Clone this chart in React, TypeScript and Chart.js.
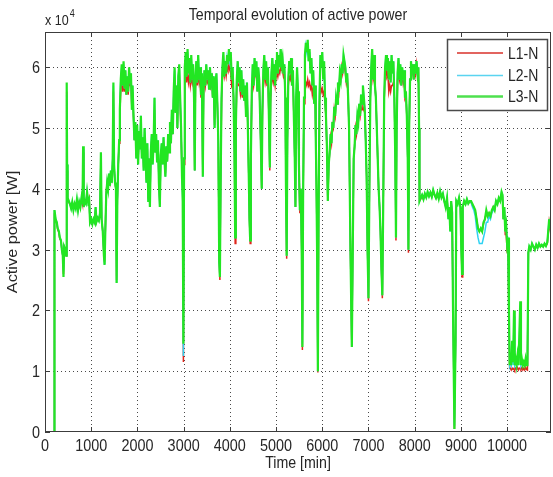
import React, { useEffect, useRef } from "react";
import { Chart, registerables } from "chart.js";

Chart.register(...registerables);

// ---------- data: sample times (min) and active power per phase (W) ----------
const timeMin = [
  0, 195, 205, 230, 255, 275, 300, 320,
  345, 365, 385, 400, 415, 440, 460, 470,
  478, 490, 515, 540, 565, 590, 615, 640,
  665, 690, 715, 740, 765, 790, 812, 825,
  838, 860, 885, 910, 935, 955, 975, 1000,
  1025, 1050, 1075, 1095, 1115, 1140, 1165, 1190,
  1210, 1225, 1250, 1275, 1290, 1305, 1325, 1345,
  1365, 1385, 1405, 1425, 1445, 1465, 1480, 1495,
  1515, 1535, 1550, 1565, 1585, 1605, 1620, 1640,
  1660, 1680, 1700, 1720, 1740, 1760, 1780, 1800,
  1820, 1840, 1860, 1880, 1895, 1915, 1935, 1955,
  1975, 1995, 2015, 2035, 2055, 2075, 2095, 2115,
  2135, 2155, 2175, 2195, 2215, 2235, 2250, 2270,
  2290, 2310, 2330, 2350, 2370, 2385, 2405, 2425,
  2445, 2465, 2485, 2505, 2525, 2545, 2565, 2585,
  2605, 2625, 2645, 2665, 2685, 2705, 2725, 2745,
  2765, 2785, 2805, 2825, 2845, 2865, 2885, 2905,
  2925, 2945, 2965, 2980, 2995, 3010, 3025, 3045,
  3065, 3085, 3105, 3125, 3145, 3165, 3185, 3205,
  3225, 3240, 3255, 3275, 3295, 3315, 3335, 3355,
  3375, 3395, 3415, 3430, 3450, 3470, 3490, 3510,
  3530, 3550, 3570, 3590, 3610, 3630, 3650, 3670,
  3690, 3710, 3730, 3750, 3770, 3785, 3800, 3820,
  3840, 3860, 3880, 3900, 3920, 3940, 3960, 3980,
  4000, 4020, 4040, 4060, 4080, 4100, 4115, 4130,
  4150, 4170, 4190, 4210, 4230, 4250, 4270, 4290,
  4310, 4330, 4350, 4370, 4390, 4410, 4425, 4440,
  4455, 4475, 4495, 4515, 4535, 4555, 4575, 4595,
  4615, 4635, 4655, 4675, 4690, 4705, 4725, 4745,
  4765, 4785, 4805, 4825, 4845, 4865, 4880, 4900,
  4920, 4940, 4960, 4980, 5000, 5020, 5040, 5060,
  5080, 5100, 5120, 5140, 5160, 5180, 5200, 5215,
  5230, 5245, 5265, 5285, 5305, 5325, 5345, 5365,
  5385, 5405, 5420, 5435, 5455, 5475, 5495, 5515,
  5535, 5555, 5570, 5585, 5605, 5625, 5645, 5665,
  5685, 5705, 5725, 5745, 5765, 5785, 5805, 5825,
  5845, 5860, 5875, 5890, 5905, 5920, 5940, 5960,
  5980, 6000, 6020, 6040, 6060, 6080, 6100, 6120,
  6140, 6160, 6180, 6200, 6220, 6240, 6260, 6280,
  6300, 6320, 6340, 6360, 6380, 6400, 6420, 6440,
  6460, 6480, 6500, 6520, 6540, 6560, 6580, 6610,
  6640, 6660, 6680, 6700, 6720, 6740, 6760, 6780,
  6800, 6820, 6840, 6860, 6880, 6900, 6920, 6940,
  6960, 6980, 7000, 7020, 7040, 7060, 7080, 7100,
  7120, 7140, 7160, 7180, 7200, 7220, 7240, 7260,
  7280, 7300, 7320, 7340, 7360, 7380, 7400, 7420,
  7440, 7460, 7480, 7500, 7520, 7540, 7560, 7580,
  7595, 7610, 7630, 7650, 7670, 7690, 7710, 7730,
  7750, 7770, 7790, 7810, 7830, 7850, 7865, 7880,
  7900, 7920, 7940, 7960, 7980, 8000, 8020, 8040,
  8060, 8080, 8095, 8105, 8130, 8160, 8190, 8220,
  8250, 8280, 8310, 8340, 8370, 8400, 8430, 8460,
  8490, 8520, 8550, 8580, 8610, 8640, 8670, 8700,
  8730, 8750, 8770, 8790, 8810, 8830, 8860, 8885,
  8900, 8930, 8960, 8990, 9010, 9025, 9040, 9070,
  9100, 9130, 9160, 9190, 9220, 9250, 9280, 9310,
  9340, 9370, 9400, 9430, 9460, 9490, 9520, 9550,
  9580, 9610, 9640, 9670, 9700, 9730, 9760, 9790,
  9820, 9850, 9880, 9900, 9920, 9940, 9960, 9980,
  10000, 10020, 10040, 10055, 10070, 10090, 10110, 10130,
  10150, 10165, 10185, 10205, 10225, 10245, 10265, 10285,
  10300, 10320, 10340, 10360, 10380, 10400, 10420, 10440,
  10460, 10480, 10510, 10540, 10570, 10600, 10630, 10660,
  10690, 10720, 10750, 10780, 10810, 10840, 10870, 10890,
  10910, 10930, 10950,
];

const powerL3 = [
  0, 0, 36500, 35000, 34500, 33500, 33000, 32000,
  31500, 30000, 29000, 25500, 30500, 30000, 29000, 57500,
  44000, 38500, 38000, 37500, 36800, 37800, 36500, 37500,
  36800, 38200, 36500, 37800, 37000, 38500, 37500, 47000,
  37000, 38000, 37600, 39500, 37800, 38200, 34500, 35000,
  34200, 35000, 34500, 37000, 34600, 35200, 34800, 36000,
  46000, 35000, 33000, 29000, 27500, 33000, 39000, 41000,
  40000, 42500, 40500, 43000, 41000, 45000, 57500, 44000,
  41000, 40000, 24500, 38000, 44000, 48000, 53000, 58000,
  60500, 57000, 61000, 56500, 59500, 55500, 58500, 56000,
  60000, 57500, 59000, 53000, 57000, 52000, 48000, 51000,
  45000, 50500, 44000, 49500, 46500, 52000, 45000, 48500,
  43000, 50000, 46000, 41000, 47500, 38000, 45000, 37000,
  46000, 49000, 44000, 47500, 55000, 46000, 49000, 44500,
  48000, 41000, 37000, 45500, 47500, 44000, 48500, 45000,
  42000, 47000, 44500, 49000, 46000, 51000, 47500, 53000,
  49000, 56000, 60000, 52500, 57000, 50000, 58500, 60500,
  55000, 50000, 42000, 38000, 14500, 45000, 60000, 62500,
  58500, 63000, 59000, 61500, 57500, 62000, 58000, 60500,
  55000, 43000, 58000, 61000, 57500, 62000, 58000, 60000,
  55500, 59000, 42000, 56000, 59500, 57000, 60500, 58000,
  59500, 56500, 60000, 57000, 59000, 55000, 58500, 50000,
  57500, 59000, 54000, 48000, 28000, 25500, 40000, 55000,
  60000, 62500, 58500, 61000, 59000, 62000, 60500, 63000,
  61000, 62500, 58000, 60000, 55000, 46000, 32000, 50000,
  58000, 61000, 57500, 60000, 56000, 59500, 55500, 58000,
  54500, 57000, 52000, 57500, 50000, 42000, 35000, 31500,
  45000, 56000, 60500, 57000, 61500, 58500, 61000, 56000,
  60000, 58000, 52000, 46000, 40000, 53000, 59500, 62000,
  58000, 61000, 57500, 60000, 52000, 43500, 55000, 59000,
  61500, 58000, 60500, 57000, 61000, 62500, 59000, 62000,
  60000, 63000, 60500, 61500, 59000, 60500, 55000, 40000,
  29000, 48000, 58000, 61000, 59000, 61500, 57000, 59500,
  52000, 45000, 37000, 55000, 60000, 56000, 44000, 36500,
  40000, 30000, 14000, 38000, 55000, 62000, 64000, 62500,
  64500, 61000, 63000, 59000, 61500, 57000, 59500, 54000,
  57000, 48000, 40000, 28000, 10000, 35000, 55000, 62000,
  60000, 62500, 58000, 61000, 55000, 52000, 47000, 38000,
  44000, 46000, 49000, 47500, 51000, 50000, 53500, 52000,
  55000, 54000, 57500, 56000, 59000, 58000, 60500, 59000,
  62000, 61000, 60000, 57500, 59000, 55000, 50000, 30000,
  14000, 30000, 45000, 47000, 50500, 49000, 52000, 51000,
  54000, 52000, 55500, 54000, 57000, 55000, 53000, 48000,
  42000, 30000, 22000, 40000, 55000, 60000, 63000, 58000,
  62000, 57000, 55000, 50000, 45000, 40000, 37000, 33000,
  27000, 22500, 38000, 55000, 60000, 62000, 59500, 61500,
  58000, 61000, 57500, 62000, 59000, 61000, 55000, 45000,
  32000, 50000, 59000, 61500, 58000, 60500, 57000, 60000,
  58000, 59500, 55000, 56000, 52000, 45000, 30000, 50000,
  58000, 61000, 59000, 60500, 58000, 60500, 59000, 61000,
  59000, 60000, 50000, 38000, 38500, 39000, 38300, 39200,
  38600, 39500, 38800, 39400, 38700, 39800, 39000, 38500,
  39300, 38400, 39600, 38600, 39200, 38000, 37000, 38500,
  35000, 37000, 33000, 38000, 36000, 20000, 500, 15000,
  38000, 37500, 38500, 37000, 30000, 26000, 37000, 38000,
  37500, 38300, 37600, 38000, 38000, 37500, 37000, 36500,
  35000, 33500, 33000, 33500, 33000, 34500, 35000, 36500,
  35500, 36000, 35500, 36500, 37000, 36500, 38000, 37500,
  38500, 38000, 39500, 39000, 35000, 37000, 33000, 34000,
  31000, 32000, 20000, 11000, 12000, 11000, 15000, 11500,
  20000, 11000, 12000, 11000, 12500, 11000, 16000, 21500,
  11000, 12000, 11000, 11500, 11000, 12000, 11000, 11000,
  29500, 30500, 30000, 31000, 30500, 30000, 30800, 30300,
  31000, 30500, 30800, 30500, 31000, 30600, 31200, 33000,
  35000, 33500, 35500,
];

const powerL1 = [
  0, 0, 36000, 34800, 34300, 33300, 32800, 31800,
  31500, 30000, 29000, 26000, 30500, 30000, 29000, 56000,
  43000, 38000, 37800, 37500, 37000, 37600, 36800, 37500,
  37000, 38000, 36800, 37600, 37200, 38300, 37500, 46000,
  37200, 38200, 37800, 39000, 38000, 38500, 34500, 35000,
  34200, 35000, 34500, 36500, 34600, 35200, 34800, 35800,
  45000, 35000, 33000, 29000, 28000, 33000, 39500, 41000,
  40500, 41500, 41000, 42000, 41500, 44000, 56000, 43500,
  41000, 40000, 25000, 38000, 44000, 47500, 52000, 56500,
  58000, 56000, 58000, 56000, 57500, 55500, 57000, 55500,
  58000, 57000, 57500, 53000, 56000, 52000, 48000, 50000,
  45500, 48500, 45000, 48000, 47000, 50000, 45500, 47500,
  43500, 48500, 46000, 41500, 46500, 38500, 45000, 37500,
  46000, 48000, 44500, 47000, 53000, 46000, 48000, 45000,
  47500, 41500, 37500, 45500, 46500, 44500, 47500, 45000,
  42500, 46500, 44500, 48000, 46000, 50000, 47500, 52000,
  49000, 55000, 57500, 52500, 56000, 50000, 57000, 58000,
  54000, 49000, 43000, 40000, 11500, 44000, 57000, 59000,
  57500, 59500, 57500, 58500, 57000, 58500, 57500, 58500,
  55000, 43000, 56500, 58500, 57000, 59000, 57500, 58500,
  55000, 57500, 42500, 55000, 58500, 57000, 58500, 57500,
  58000, 56500, 58500, 57000, 58000, 55000, 57500, 50500,
  57000, 58000, 54000, 47500, 28500, 25000, 40000, 54000,
  59000, 60000, 58500, 59500, 58500, 60000, 59500, 60500,
  59500, 59000, 57000, 57500, 55000, 46000, 31000, 50000,
  57000, 57500, 57000, 57000, 55500, 56500, 55000, 57000,
  54500, 56000, 52000, 56000, 50000, 42000, 35000, 31000,
  45000, 55500, 58500, 57000, 58500, 58500, 58500, 56000,
  58500, 58000, 52000, 46000, 40000, 52000, 58000, 59000,
  57500, 58500, 57000, 58000, 52000, 43000, 54000, 57500,
  58500, 57500, 58500, 57000, 58500, 59500, 58500, 59500,
  59000, 60000, 59500, 59500, 58500, 59000, 55000, 40000,
  28500, 48000, 57000, 58500, 58000, 59000, 57000, 58000,
  52000, 45000, 37000, 54000, 58000, 56000, 44000, 36000,
  40000, 30000, 13500, 38000, 54000, 58000, 57500, 57000,
  58000, 57000, 57500, 56500, 57000, 55500, 56500, 54000,
  55500, 48000, 40000, 28000, 9800, 35000, 54000, 57000,
  56000, 56500, 55500, 56000, 54000, 52000, 47000, 38000,
  43500, 46000, 48500, 47500, 50500, 50000, 53000, 52000,
  54500, 54000, 57000, 56000, 58500, 58000, 60000, 59000,
  60500, 60000, 59000, 57500, 58500, 55000, 50000, 30000,
  14000, 30000, 45000, 47000, 50000, 49000, 51500, 51000,
  53000, 52000, 53500, 53000, 53500, 53000, 52500, 48000,
  42000, 30000, 21500, 40000, 55000, 59000, 60000, 58000,
  59000, 57000, 55000, 50000, 45000, 40000, 37000, 33000,
  27000, 22000, 38000, 54500, 59000, 59500, 58500, 59000,
  56000, 57000, 56000, 57000, 57000, 57500, 55000, 45000,
  31500, 50000, 58000, 59500, 58000, 59000, 57000, 59000,
  57500, 58500, 55000, 55500, 52000, 45000, 29500, 50000,
  58000, 60500, 59000, 60500, 58000, 60500, 59000, 60500,
  59000, 60000, 50000, 38000, 38300, 38800, 38300, 39000,
  38600, 39200, 38800, 39200, 38700, 39500, 39000, 38500,
  39000, 38400, 39300, 38600, 39000, 38000, 37200, 38300,
  35500, 37000, 33500, 37800, 36000, 20000, 500, 15000,
  37800, 37500, 38300, 37000, 30000, 25500, 37000, 37800,
  37500, 38000, 37600, 37800, 37800, 37300, 37000, 36300,
  35000, 33500, 33000, 33300, 33000, 34300, 35000, 36000,
  35500, 36000, 35500, 36300, 37000, 36500, 37800, 37500,
  38300, 38000, 39000, 38800, 35000, 36500, 32500, 32500,
  30000, 30500, 19000, 10500, 10500, 10200, 10500, 10300,
  10500, 10200, 10500, 10300, 10600, 10200, 10500, 10400,
  10300, 10600, 10200, 10500, 10200, 10600, 10300, 10200,
  29500, 30300, 30000, 30800, 30500, 30000, 30600, 30300,
  30800, 30500, 30600, 30500, 30800, 30600, 31000, 32500,
  34500, 33500, 35000,
];

const powerL2 = [
  0, 0, 36500, 35000, 34500, 33500, 33000, 32000,
  31500, 30000, 29000, 26500, 30500, 30000, 29000, 55500,
  44000, 38500, 38000, 37500, 36800, 37800, 36500, 37500,
  36800, 38200, 36500, 37800, 37000, 38500, 37500, 46500,
  37000, 38000, 37600, 39500, 37800, 38200, 34500, 35000,
  34200, 35000, 34500, 37000, 34600, 35200, 34800, 36000,
  45500, 35000, 33000, 29000, 27500, 33000, 39000, 41000,
  40000, 42500, 40500, 43000, 41000, 45000, 57000, 44000,
  41000, 40000, 24500, 38000, 44000, 48000, 53000, 58000,
  60000, 57000, 60500, 56500, 59500, 55500, 58500, 56000,
  59500, 57500, 59000, 53000, 57000, 52000, 48000, 51000,
  45000, 50500, 44000, 49500, 46500, 52000, 45000, 48500,
  43000, 50000, 46000, 41000, 47500, 38000, 45000, 37000,
  46000, 49000, 44000, 47500, 55000, 46000, 49000, 44500,
  48000, 41000, 37000, 45500, 47500, 44000, 48500, 45000,
  42000, 47000, 44500, 49000, 46000, 51000, 47500, 53000,
  49000, 56000, 59500, 52500, 57000, 50000, 58500, 60000,
  55000, 50000, 42000, 38500, 12500, 45000, 59500, 62000,
  58500, 62500, 59000, 61000, 57500, 61500, 58000, 60500,
  55000, 43000, 58000, 61000, 57500, 62000, 58000, 60000,
  55500, 59000, 42000, 56000, 59500, 57000, 60500, 58000,
  59500, 56500, 60000, 57000, 59000, 55000, 58500, 50000,
  57500, 59000, 54000, 48000, 28000, 25500, 40000, 55000,
  60000, 62000, 58500, 61000, 59000, 61500, 60500, 62500,
  61000, 62000, 58000, 60000, 55000, 46000, 32000, 50000,
  58000, 61000, 57500, 60000, 56000, 59500, 55500, 58000,
  54500, 57000, 52000, 57500, 50000, 42000, 35000, 31500,
  45000, 56000, 60500, 57000, 61500, 58500, 61000, 56000,
  60000, 58000, 52000, 46000, 40000, 53000, 59500, 62000,
  58000, 61000, 57500, 60000, 52000, 43500, 55000, 59000,
  61500, 58000, 60500, 57000, 61000, 62500, 59000, 62000,
  60000, 63000, 60500, 61500, 59000, 60500, 55000, 40000,
  29000, 48000, 58000, 61000, 59000, 61500, 57000, 59500,
  52000, 45000, 37000, 55000, 60000, 56000, 44000, 36500,
  40000, 30000, 14500, 38000, 55000, 61500, 63500, 62500,
  64000, 61000, 62500, 59000, 61500, 57000, 59500, 54000,
  57000, 48000, 40000, 28000, 10000, 35000, 55000, 62000,
  60000, 62500, 58000, 61000, 55000, 52000, 47000, 38000,
  44000, 46000, 49000, 47500, 51000, 50000, 53500, 52000,
  55000, 54000, 57500, 56000, 59000, 58000, 60500, 59000,
  62000, 61000, 60000, 57500, 59000, 55000, 50000, 30000,
  14000, 30000, 45000, 47000, 50500, 49000, 52000, 51000,
  54000, 52000, 55500, 54000, 57000, 55000, 53000, 48000,
  42000, 30000, 22000, 40000, 55000, 60000, 63000, 58000,
  62000, 57000, 55000, 50000, 45000, 40000, 37000, 33000,
  27000, 22500, 38000, 55000, 60000, 62000, 59500, 61500,
  58000, 61000, 57500, 62000, 59000, 61000, 55000, 45000,
  32000, 50000, 59000, 61500, 58000, 60500, 57000, 60000,
  58000, 59500, 55000, 56000, 52000, 45000, 30000, 50000,
  58000, 61000, 59000, 60500, 58000, 60500, 59000, 61000,
  59000, 60000, 50000, 38000, 38500, 39000, 38300, 39200,
  38600, 39500, 38800, 39400, 38700, 39800, 39000, 38500,
  39300, 38400, 39600, 38600, 39200, 38000, 37000, 38500,
  35000, 37000, 33000, 38000, 36000, 20000, 1000, 15000,
  38000, 37500, 38500, 37000, 30000, 26500, 37000, 38000,
  37500, 38300, 37600, 38000, 37800, 37000, 36500, 35500,
  33500, 32000, 31000, 31000, 31000, 32000, 33000, 34500,
  34500, 35500, 35000, 36000, 36500, 36500, 38000, 37500,
  38500, 38000, 39500, 39000, 35000, 37000, 33000, 34000,
  31000, 31500, 20000, 11000, 11500, 11000, 14000, 11000,
  19000, 11000, 11500, 11000, 12000, 11000, 15000, 20500,
  11000, 11500, 11000, 11300, 11000, 11500, 11000, 11000,
  29500, 30500, 30000, 31000, 30500, 30000, 30800, 30300,
  31000, 30500, 30800, 30500, 31000, 30600, 31200, 33000,
  35000, 33500, 35500,
];

const seriesNames = ["L1-N", "L2-N", "L3-N"];
const seriesColors = ["#e0261c", "#2ed2f2", "#22e622"];
const xTicks = [0, 1000, 2000, 3000, 4000, 5000, 6000, 7000, 8000, 9000, 10000];
const yTicks = [0, 10000, 20000, 30000, 40000, 50000, 60000];
const yTickLabels = ["0", "1", "2", "3", "4", "5", "6"];
const X_MAX = 10950;
const Y_MAX = 65800;
const TITLE = "Temporal evolution of active power";
const X_LABEL = "Time [min]";
const Y_LABEL = "Active power [W]";

const FONT = '"Liberation Sans", Arial, Helvetica, sans-serif';
const SY = 1.15;
const TEXT_COLOR = "#262626";

function drawText(
  ctx: CanvasRenderingContext2D,
  text: string,
  x: number,
  y: number,
  size: number,
  align: CanvasTextAlign = "left",
  baseline: CanvasTextBaseline = "alphabetic",
  rotate = 0
) {
  ctx.save();
  ctx.translate(x, y);
  ctx.scale(1, SY);
  if (rotate) ctx.rotate(rotate);
  ctx.font = `${size}px ${FONT}`;
  ctx.fillStyle = TEXT_COLOR;
  ctx.textAlign = align;
  ctx.textBaseline = baseline;
  ctx.fillText(text, 0, 0);
  ctx.restore();
}

const matlabPlugin = {
  id: "matlabLook",
  beforeDatasetsDraw(chart: any) {
    const { ctx, chartArea: a, scales } = chart;
    ctx.save();
    ctx.strokeStyle = "#4a4a4a";
    ctx.lineWidth = 1;
    ctx.setLineDash([1, 3]);
    for (const v of xTicks) {
      const px = Math.round(scales.x.getPixelForValue(v)) + 0.5;
      if (px <= a.left + 1 || px >= a.right - 1) continue;
      ctx.beginPath();
      ctx.moveTo(px, a.top);
      ctx.lineTo(px, a.bottom);
      ctx.stroke();
    }
    for (const v of yTicks) {
      const py = Math.round(scales.y.getPixelForValue(v)) + 0.5;
      if (py >= a.bottom - 1 || py <= a.top + 1) continue;
      ctx.beginPath();
      ctx.moveTo(a.left, py);
      ctx.lineTo(a.right, py);
      ctx.stroke();
    }
    ctx.restore();
  },
  afterDatasetsDraw(chart: any) {
    const { ctx, chartArea: a, scales } = chart;
    ctx.save();
    ctx.strokeStyle = "#3c3c3c";
    ctx.lineWidth = 1;
    ctx.strokeRect(a.left + 0.5, a.top + 0.5, a.right - a.left - 1, a.bottom - a.top - 1);
    const tl = 5;
    ctx.beginPath();
    for (const v of xTicks) {
      const px = Math.round(scales.x.getPixelForValue(v)) + 0.5;
      ctx.moveTo(px, a.bottom);
      ctx.lineTo(px, a.bottom - tl);
      ctx.moveTo(px, a.top);
      ctx.lineTo(px, a.top + tl);
    }
    for (const v of yTicks) {
      const py = Math.round(scales.y.getPixelForValue(v)) + 0.5;
      ctx.moveTo(a.left, py);
      ctx.lineTo(a.left + tl, py);
      ctx.moveTo(a.right, py);
      ctx.lineTo(a.right - tl, py);
    }
    ctx.stroke();

    // legend box
    const lx = 447, ly = 39, lw = 100, lh = 71;
    ctx.fillStyle = "#ffffff";
    ctx.fillRect(lx, ly, lw, lh);
    ctx.strokeStyle = "#4a4a4a";
    ctx.lineWidth = 1.5;
    ctx.strokeRect(lx + 0.5, ly + 0.5, lw, lh);
    const rows = [53, 75.5, 96.5];
    const widths = [1.5, 1.5, 2.5];
    const legendColors = ["#d8302a", "#5ad4f0", "#4ee04e"];
    seriesNames.forEach((name, i) => {
      ctx.strokeStyle = legendColors[i];
      ctx.lineWidth = widths[i];
      ctx.beginPath();
      ctx.moveTo(457, rows[i]);
      ctx.lineTo(503, rows[i]);
      ctx.stroke();
      drawText(ctx, name, 508, rows[i] + 5.5, 14, "left", "alphabetic");
    });
    ctx.restore();
  },
  afterDraw(chart: any) {
    const { ctx, chartArea: a, scales } = chart;
    const cx = (a.left + a.right) / 2;
    const cy = (a.top + a.bottom) / 2;
    drawText(ctx, TITLE, cx, 19.5, 14.2, "center");
    for (const v of xTicks) {
      const px = scales.x.getPixelForValue(v);
      drawText(ctx, String(v), px, 451, 14.4, "center");
    }
    yTicks.forEach((v, i) => {
      const py = scales.y.getPixelForValue(v);
      drawText(ctx, yTickLabels[i], 40, py + 6, 14.4, "right");
    });
    drawText(ctx, X_LABEL, cx, 468, 14.2, "center");
    drawText(ctx, Y_LABEL, 17, cy, 14.2, "center", "alphabetic", -Math.PI / 2);
    ctx.save();
    ctx.font = `12.5px ${FONT}`;
    const w = ctx.measureText("x 10").width;
    ctx.restore();
    drawText(ctx, "x 10", a.left, 25, 12.5, "left");
    drawText(ctx, "4", a.left + w + 1, 17, 9, "left");
  },
};

function toPoints(values: number[]) {
  const n = Math.min(timeMin.length, values.length);
  const pts: { x: number; y: number }[] = [];
  for (let i = 0; i < n; i++) pts.push({ x: timeMin[i], y: values[i] });
  return pts;
}

export default function App() {
  const ref = useRef<HTMLCanvasElement>(null);
  useEffect(() => {
    if (!ref.current) return;
    const chart = new Chart(ref.current, {
      type: "line",
      data: {
        datasets: [
          { label: seriesNames[2], data: toPoints(powerL3), borderColor: seriesColors[2], borderWidth: 2.2, pointRadius: 0 },
          { label: seriesNames[1], data: toPoints(powerL2), borderColor: seriesColors[1], borderWidth: 1.5, pointRadius: 0 },
          { label: seriesNames[0], data: toPoints(powerL1), borderColor: seriesColors[0], borderWidth: 1.5, pointRadius: 0 },
        ],
      },
      options: {
        responsive: false,
        devicePixelRatio: 1,
        animation: false,
        events: [],
        layout: { padding: { left: 0, right: 2, top: 32, bottom: 0 } },
        plugins: { legend: { display: false }, tooltip: { enabled: false }, title: { display: false } },
        elements: { point: { radius: 0 }, line: { tension: 0 } },
        scales: {
          x: {
            type: "linear",
            min: 0,
            max: X_MAX,
            grid: { display: false },
            border: { display: false },
            ticks: { display: false },
            afterFit: (s: any) => { s.height = 45; },
          },
          y: {
            type: "linear",
            min: 0,
            max: Y_MAX,
            grid: { display: false },
            border: { display: false },
            ticks: { display: false },
            afterFit: (s: any) => { s.width = 45; },
          },
        },
      },
      plugins: [matlabPlugin],
    } as any);
    return () => chart.destroy();
  }, []);
  return (
    <div style={{ position: "absolute", left: 0, top: 0, width: 553, height: 477, background: "#ffffff" }}>
      <canvas ref={ref} width={553} height={477} style={{ display: "block", width: 553, height: 477 }} />
    </div>
  );
}
